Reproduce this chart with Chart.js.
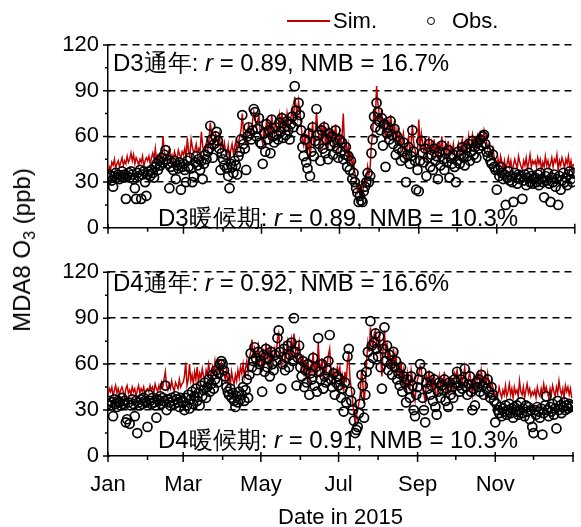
<!DOCTYPE html>
<html>
<head>
<meta charset="utf-8">
<script src="https://cdn.jsdelivr.net/npm/chart.js@4"></script>
<style>
body { margin: 0; background: #fff; }
#wrap { position: relative; width: 581px; height: 527px; font-family: "Liberation Sans", Arial, sans-serif; color: #000; overflow: hidden; }
canvas { position: absolute; left: 0; }
.txt { position: absolute; white-space: nowrap; font-size: 22px; line-height: 1; color: #000; }
.note { font-size: 24px; }
</style>
</head>
<body>
<div id="wrap">
<canvas id="topChart" width="581" height="250" style="top:0"></canvas>
<canvas id="bottomChart" width="581" height="281" style="top:250px"></canvas>

<div style="position:absolute;left:287px;top:20px;width:43px;height:2px;background:#c00000"></div>
<div class="txt" style="left:333px;top:10px">Sim.</div>
<div style="position:absolute;left:427px;top:17px;width:6px;height:6px;border:1.5px solid #000;border-radius:50%"></div>
<div class="txt" style="left:452px;top:10px">Obs.</div>

<div class="txt" style="left:22px;top:250px;font-size:24px;transform:translate(-50%,-50%) rotate(-90deg);transform-origin:center">MDA8 O<span style="font-size:16px;position:relative;top:5px">3</span> (ppb)</div>

<div class="txt note" style="left:113px;top:51px">D3通年: <i>r</i> = 0.89, NMB = 16.7%</div>
<div class="txt note" style="left:158px;top:206px">D3暖候期: <i>r</i> = 0.89, NMB = 10.3%</div>
<div class="txt note" style="left:113px;top:271px">D4通年: <i>r</i> = 0.92, NMB = 16.6%</div>
<div class="txt note" style="left:158px;top:428px">D4暖候期: <i>r</i> = 0.91, NMB = 10.3%</div>
</div>

<script>
const monthStarts = [0, 31, 59, 90, 120, 151, 181, 212, 243, 273, 304, 334, 365];
const monthLabels = ["Jan", "", "Mar", "", "May", "", "Jul", "", "Sep", "", "Nov", "", ""];
const yTickValues = [0, 15, 30, 45, 60, 75, 90, 105, 120];

// D3 observed, one row per month
const obsD3 = [
    33, 35, 34, 31, 27, 34, 36, 33, 35, 32, 34, 37, 33, 35, 19, 34, 36, 33, 37, 35, 32, 26, 19, 36, 34, 38, 19, 35, 37, 30, 21,
    35, 37, 34, 38, 36, 33, 40, 42, 38, 44, 41, 46, 43, 48, 51, 45, 42, 26, 40, 43, 38, 44, 32, 41, 39, 43, 25, 40,
    42, 38, 30, 44, 40, 46, 39, 30, 34, 43, 47, 41, 45, 38, 44, 32, 42, 48, 45, 50, 52, 67, 58, 46, 55, 60, 63, 57, 52, 38, 49,
    45, 41, 48, 39, 34, 26, 42, 40, 36, 44, 41, 35, 47, 50, 58, 74, 55, 52, 38, 60, 66, 62, 58, 64, 78, 76, 60, 65, 72, 56,
    55, 42, 62, 50, 68, 58, 64, 49, 71, 60, 56, 66, 61, 58, 69, 63, 72, 59, 66, 61, 70, 64, 58, 68, 73, 66, 93, 77, 70, 82, 74,
    64, 53, 47, 58, 43, 39, 62, 34, 50, 66, 47, 57, 78, 61, 55, 44, 64, 52, 66, 49, 58, 45, 62, 54, 60, 48, 56, 64, 52, 46,
    58, 50, 56, 45, 48, 53, 40, 47, 38, 44, 32, 36, 30, 26, 23, 17, 21, 18, 17, 24, 27, 30, 36, 30, 34, 49, 58, 73, 66, 82, 76,
    70, 64, 72, 54, 68, 40, 62, 66, 58, 70, 61, 55, 65, 48, 60, 52, 57, 44, 50, 56, 46, 30, 48, 53, 42, 47, 64, 50, 44, 25, 38,
    24, 44, 57, 49, 43, 52, 34, 46, 55, 40, 48, 38, 52, 44, 47, 32, 50, 41, 54, 45, 38, 49, 43, 51, 33, 46, 42, 48, 40, 30,
    44, 50, 42, 48, 53, 46, 41, 52, 47, 55, 44, 50, 57, 48, 53, 46, 56, 52, 58, 54, 60, 61, 55, 50, 47, 51, 44, 42, 48, 40, 38,
    25, 38, 34, 40, 36, 32, 35, 15, 33, 37, 31, 34, 30, 17, 36, 33, 29, 35, 32, 34, 19, 31, 35, 28, 33, 36, 30, 34, 29, 32,
    33, 30, 35, 28, 36, 32, 30, 20, 34, 31, 36, 29, 17, 33, 30, 35, 27, 32, 15, 34, 25, 31, 36, 30, 33, 28, 35, 37, 32, 30, 36
];

// D3 simulated
const simD3 = [
    36, 40, 38, 43, 41, 45, 39, 42, 44, 40, 43, 46, 41, 44, 42, 47, 43, 45, 49, 44, 48, 42, 46, 44, 41, 45, 43, 47, 40, 44, 46,
    44, 47, 42, 46, 49, 45, 52, 44, 47, 43, 48, 46, 60, 50, 47, 45, 49, 52, 46, 48, 44, 50, 47, 45, 51, 48, 46, 50,
    48, 52, 46, 59, 50, 47, 58, 53, 49, 51, 55, 48, 52, 50, 63, 54, 49, 53, 56, 51, 58, 69, 60, 54, 57, 62, 59, 55, 61, 52, 56,
    52, 56, 50, 48, 54, 45, 51, 55, 49, 53, 57, 50, 56, 60, 64, 75, 62, 58, 55, 63, 68, 65, 61, 70, 76, 72, 66, 70, 74, 62,
    60, 55, 66, 58, 72, 64, 68, 58, 74, 66, 62, 70, 65, 63, 74, 68, 76, 64, 70, 66, 75, 68, 63, 72, 78, 70, 86, 80, 73, 83, 76,
    68, 58, 54, 62, 50, 48, 66, 45, 56, 70, 52, 60, 76, 65, 60, 50, 68, 58, 70, 55, 62, 52, 66, 58, 64, 55, 60, 68, 57, 52,
    62, 55, 60, 75, 52, 56, 48, 54, 42, 50, 40, 44, 36, 32, 24, 28, 22, 26, 20, 30, 33, 28, 40, 35, 40, 55, 64, 78, 70, 93, 82,
    75, 68, 78, 62, 72, 56, 66, 70, 64, 74, 66, 60, 70, 55, 64, 58, 62, 52, 57, 62, 54, 45, 55, 60, 50, 54, 68, 56, 52, 46, 50,
    71, 52, 62, 56, 50, 58, 44, 53, 60, 48, 55, 46, 58, 51, 54, 45, 56, 49, 60, 52, 47, 55, 50, 57, 46, 53, 49, 55, 48, 44,
    50, 55, 48, 54, 58, 52, 49, 57, 53, 60, 50, 55, 61, 54, 58, 52, 60, 56, 62, 58, 57, 64, 60, 56, 52, 55, 50, 48, 52, 46, 45,
    42, 45, 40, 47, 43, 39, 44, 38, 42, 46, 40, 44, 37, 41, 45, 42, 39, 47, 43, 40, 38, 44, 41, 46, 39, 43, 48, 40, 44, 42,
    44, 40, 46, 42, 45, 38, 43, 40, 47, 41, 44, 39, 42, 46, 40, 45, 43, 48, 38, 44, 41, 46, 43, 39, 45, 42, 47, 40, 44, 38, 42
];

// D4 observed
const obsD4 = [
    34, 36, 33, 35, 26, 37, 34, 32, 36, 35, 33, 38, 34, 36, 22, 24, 35, 21, 33, 37, 34, 26, 36, 15, 35, 33, 37, 34, 38, 36, 35,
    19, 40, 36, 34, 38, 35, 33, 25, 37, 36, 39, 34, 38, 36, 46, 30, 37, 35, 33, 38, 36, 34, 39, 37, 35, 32, 38, 36,
    35, 30, 38, 33, 40, 31, 37, 42, 34, 39, 44, 36, 41, 33, 46, 39, 43, 48, 38, 45, 50, 42, 47, 53, 44, 50, 56, 48, 54, 60, 62,
    60, 56, 52, 45, 42, 40, 44, 38, 41, 36, 32, 39, 35, 42, 37, 40, 45, 36, 43, 50, 38, 53, 67, 58, 62, 71, 64, 56, 68, 60,
    62, 42, 66, 55, 70, 58, 64, 52, 68, 60, 56, 66, 62, 77, 82, 68, 44, 60, 70, 56, 64, 72, 58, 66, 74, 62, 90, 68, 46, 64, 72,
    58, 52, 62, 45, 56, 48, 60, 40, 54, 50, 64, 46, 58, 42, 77, 55, 50, 60, 44, 52, 48, 56, 62, 79, 50, 45, 54, 40, 48, 52,
    46, 50, 38, 44, 29, 48, 35, 65, 70, 42, 36, 30, 23, 15, 17, 19, 28, 34, 53, 46, 25, 40, 55, 68, 60, 88, 72, 64, 74, 80, 70,
    65, 78, 58, 44, 70, 84, 62, 72, 56, 66, 60, 53, 68, 58, 62, 50, 54, 46, 58, 42, 52, 48, 35, 50, 44, 38, 52, 46, 30, 26, 40,
    45, 50, 60, 55, 38, 30, 22, 48, 44, 52, 40, 46, 36, 50, 32, 27, 42, 48, 38, 46, 43, 50, 36, 44, 32, 48, 40, 45, 38, 50,
    48, 55, 46, 42, 50, 44, 48, 57, 45, 40, 47, 52, 42, 30, 44, 33, 48, 45, 50, 42, 53, 46, 40, 48, 44, 50, 42, 38, 45, 40, 36,
    22, 34, 30, 28, 32, 26, 31, 29, 33, 27, 30, 34, 28, 31, 25, 32, 29, 33, 27, 30, 35, 28, 31, 26, 33, 29, 32, 24, 30, 19,
    15, 30, 27, 32, 29, 25, 31, 14, 28, 33, 39, 30, 26, 32, 29, 34, 27, 31, 18, 36, 30, 33, 28, 32, 35, 30, 33, 31, 34, 32, 33
];

// D4 simulated
const simD4 = [
    40, 44, 42, 45, 39, 43, 46, 41, 44, 40, 43, 45, 42, 38, 44, 46, 41, 43, 40, 45, 42, 44, 39, 43, 46, 41, 44, 42, 45, 40, 43,
    44, 42, 46, 43, 45, 41, 47, 44, 42, 46, 43, 48, 45, 50, 55, 46, 43, 47, 44, 49, 45, 42, 48, 46, 44, 50, 45, 47,
    48, 52, 61, 46, 50, 60, 49, 53, 47, 55, 50, 58, 48, 54, 51, 57, 52, 49, 56, 53, 60, 55, 51, 58, 54, 62, 56, 53, 59, 57, 61,
    58, 54, 50, 56, 48, 52, 46, 55, 50, 47, 53, 49, 56, 51, 58, 54, 60, 52, 57, 62, 55, 64, 68, 76, 66, 70, 63, 67, 72, 62,
    66, 55, 70, 60, 74, 64, 68, 58, 72, 65, 62, 70, 66, 76, 80, 70, 58, 66, 72, 62, 68, 74, 63, 70, 76, 66, 80, 72, 60, 68, 74,
    64, 56, 66, 52, 60, 54, 64, 48, 58, 55, 68, 52, 62, 50, 74, 60, 56, 64, 50, 58, 54, 60, 66, 70, 56, 50, 58, 48, 54, 58,
    54, 58, 46, 52, 42, 55, 48, 62, 66, 50, 44, 36, 28, 21, 26, 30, 35, 40, 56, 48, 34, 45, 62, 74, 68, 84, 76, 70, 80, 82, 72,
    70, 80, 64, 52, 72, 82, 66, 74, 60, 68, 64, 56, 70, 60, 66, 54, 58, 50, 62, 46, 56, 52, 42, 54, 48, 44, 56, 50, 40, 36, 46,
    50, 54, 59, 56, 44, 40, 36, 52, 48, 56, 45, 50, 42, 54, 40, 38, 46, 52, 44, 50, 47, 55, 42, 48, 40, 52, 45, 49, 43, 54,
    52, 56, 50, 46, 54, 48, 52, 58, 49, 45, 51, 55, 47, 40, 48, 42, 52, 50, 54, 47, 56, 50, 45, 52, 48, 54, 46, 44, 49, 45, 42,
    38, 42, 40, 45, 41, 38, 43, 40, 46, 39, 42, 47, 40, 44, 38, 45, 41, 43, 39, 49, 42, 40, 45, 38, 43, 47, 41, 44, 39, 42,
    40, 43, 38, 45, 41, 39, 44, 40, 47, 42, 45, 41, 38, 44, 40, 46, 42, 39, 45, 41, 49, 43, 40, 44, 38, 46, 42, 45, 40, 44, 38
];

Chart.defaults.font.family = "'Liberation Sans', Arial, sans-serif";
Chart.defaults.font.size = 22;
Chart.defaults.color = "#000";

// ticks drawn by hand: majors cross the axis, minors point out
const tickMarks = {
    id: "tickMarks",
    afterDraw(chart) {
        const ctx = chart.ctx;
        const xs = chart.scales.x;
        const ys = chart.scales.y;
        const left = chart.chartArea.left;
        const bottom = chart.chartArea.bottom;
        ctx.save();
        ctx.strokeStyle = "#000";
        ctx.lineWidth = 1.5;
        ctx.beginPath();
        yTickValues.forEach(v => {
            const p = ys.getPixelForValue(v);
            const major = v % 30 === 0;
            ctx.moveTo(left - (major ? 5 : 3), p);
            ctx.lineTo(left + (major ? 2 : 0), p);
        });
        monthStarts.forEach((d, i) => {
            const p = xs.getPixelForValue(d);
            const major = i % 2 === 0;
            ctx.moveTo(p, bottom + (major ? 6 : 4));
            ctx.lineTo(p, bottom - (major ? 4 : 0));
        });
        ctx.stroke();
        ctx.restore();
    }
};

function toPoints(values) {
    return values.map((v, i) => ({ x: i, y: v }));
}

function makePanel(id, obs, sim, showDates) {
    new Chart(document.getElementById(id), {
        type: "line",
        data: {
            datasets: [
                {
                    label: "Obs.",
                    data: toPoints(obs),
                    showLine: false,
                    pointRadius: 4.5,
                    pointBorderWidth: 1.7,
                    pointBorderColor: "#000",
                    pointBackgroundColor: "rgba(0,0,0,0)"
                },
                {
                    label: "Sim.",
                    data: toPoints(sim),
                    borderColor: "#c00000",
                    borderWidth: 1.5,
                    pointRadius: 0,
                    tension: 0
                }
            ]
        },
        options: {
            responsive: false,
            animation: false,
            devicePixelRatio: 1,
            layout: {
                padding: showDates
                    ? { top: 18, right: 3, left: 0, bottom: 0 }
                    : { top: 45, right: 3, left: 0, bottom: 0 }
            },
            plugins: {
                legend: { display: false },
                tooltip: { enabled: false }
            },
            scales: {
                x: {
                    type: "linear",
                    min: 0,
                    max: 365,
                    afterFit: s => { s.height = showDates ? 75 : 16; },
                    afterBuildTicks: s => { s.ticks = monthStarts.map(v => ({ value: v })); },
                    grid: { display: false },
                    border: { display: true, color: "#000", width: 1.5 },
                    ticks: {
                        display: showDates,
                        autoSkip: false,
                        maxRotation: 0,
                        padding: 8,
                        callback: (v, i) => monthLabels[i]
                    },
                    title: {
                        display: showDates,
                        text: "Date in 2015",
                        padding: { top: 0, bottom: 0 }
                    }
                },
                y: {
                    min: 0,
                    max: 120,
                    afterFit: s => { s.width = 108; },
                    afterBuildTicks: s => { s.ticks = yTickValues.map(v => ({ value: v })); },
                    grid: {
                        drawTicks: false,
                        lineWidth: 1.5,
                        color: c => (c.tick && c.tick.value % 30 === 0 && c.tick.value !== 0) ? "#000" : "rgba(0,0,0,0)"
                    },
                    border: { display: true, color: "#000", width: 1.5, dash: [7, 5] },
                    ticks: {
                        autoSkip: false,
                        padding: 9,
                        callback: v => (v % 30 === 0 ? v : "")
                    }
                }
            }
        },
        plugins: [tickMarks]
    });
}

makePanel("topChart", obsD3, simD3, false);
makePanel("bottomChart", obsD4, simD4, true);
</script>
</body>
</html>
